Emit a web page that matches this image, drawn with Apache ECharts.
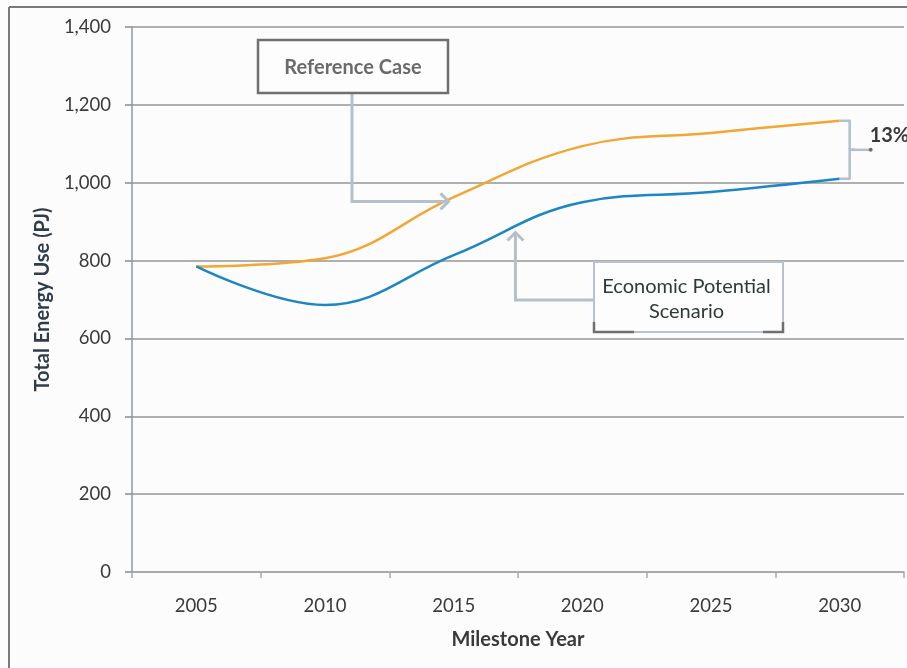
<!DOCTYPE html>
<html>
<head>
<meta charset="utf-8">
<style>
  html, body { margin: 0; padding: 0; background: #fcfcfc; }
  #chart { width: 907px; height: 668px; }
</style>
<script src="https://cdn.jsdelivr.net/npm/echarts@6/dist/echarts.min.js"></script>
</head>
<body>
<div id="chart"></div>
<script>
// Milestone years and total energy use (PJ) for the two scenarios
const years = ['2005', '2010', '2015', '2020', '2025', '2030'];
const referenceCase = [785, 806, 963, 1094, 1128, 1159];
const economicPotential = [785, 686, 814, 950, 976, 1010];
const yMin = 0, yMax = 1400, yStep = 200;

// Callout text and the points their connectors point at (category index, PJ)
const referenceLabel = 'Reference Case';
const economicLabel = 'Economic Potential\nScenario';
const referenceTarget = [1.96, 952];
const economicTarget = [2.48, 872];
const gapLabel = '13%';

const FONT = 'Lato, "Open Sans", sans-serif';
const ORANGE = '#f2a634';
const BLUE = '#1d86c4';
const CONNECTOR = '#b4bfca';

const chart = echarts.init(document.getElementById('chart'));

chart.setOption({
  backgroundColor: '#fcfcfc',
  animation: false,
  grid: { left: 132, right: 3, top: 27, bottom: 96 },
  xAxis: {
    type: 'category',
    data: years,
    boundaryGap: true,
    name: 'Milestone Year',
    nameLocation: 'middle',
    nameGap: 58,
    nameTextStyle: { fontFamily: FONT, fontSize: 20, fontWeight: 'bold', color: '#3a3a3a' },
    axisLine: { lineStyle: { color: '#a9a9a9', width: 1.5 } },
    axisTick: { show: true, length: 6, lineStyle: { color: '#a9a9a9', width: 1.5 } },
    axisLabel: { margin: 25, fontFamily: FONT, fontSize: 18.5, color: '#3a3a3a' }
  },
  yAxis: {
    type: 'value',
    min: yMin,
    max: yMax,
    interval: yStep,
    name: 'Total Energy Use (PJ)',
    nameLocation: 'middle',
    nameGap: 79,
    nameRotate: 90,
    nameTextStyle: { fontFamily: FONT, fontSize: 20, fontWeight: 'bold', color: '#2f3d4a' },
    axisLine: { show: true, lineStyle: { color: '#8d9aa8', width: 1.5 } },
    axisTick: { show: true, length: 7, lineStyle: { color: '#8a8a8a', width: 1.5 } },
    axisLabel: {
      margin: 21, fontFamily: FONT, fontSize: 18.5, color: '#3a3a3a',
      formatter: v => v.toLocaleString('en-US')
    },
    splitLine: { lineStyle: { color: '#969696', width: 1.5 } }
  },
  series: [
    {
      name: 'Reference Case',
      type: 'line',
      data: referenceCase,
      smooth: 0.4,
      symbol: 'none',
      lineStyle: { color: ORANGE, width: 2.5 },
      z: 3
    },
    {
      name: 'Economic Potential Scenario',
      type: 'line',
      data: economicPotential,
      smooth: 0.4,
      symbol: 'none',
      lineStyle: { color: BLUE, width: 2.5 },
      z: 3
    }
  ]
});

// Pixel position of a (fractional category index, value) pair
function toPx(idx, value) {
  const a = chart.convertToPixel({ xAxisIndex: 0 }, 0);
  const b = chart.convertToPixel({ xAxisIndex: 0 }, 1);
  const y = chart.convertToPixel({ yAxisIndex: 0 }, value);
  return [a + (b - a) * idx, y];
}

function arrowHead(tip, dir, color) {
  // dir: 'right' or 'up'
  const s = 8;
  const pts = dir === 'right'
    ? [[tip[0] - s, tip[1] - s], tip, [tip[0] - s, tip[1] + s]]
    : [[tip[0] - s, tip[1] + s], tip, [tip[0] + s, tip[1] + s]];
  return { type: 'polyline', shape: { points: pts }, style: { stroke: color, lineWidth: 3, fill: null }, z: 10 };
}

function drawCallouts() {
  const last = years.length - 1;
  const refEnd = toPx(last, referenceCase[last]);
  const ecoEnd = toPx(last, economicPotential[last]);
  const refTip = toPx(referenceTarget[0], referenceTarget[1]);
  const ecoTip = toPx(economicTarget[0], economicTarget[1]);

  // Reference Case callout box
  const rb = { x: 258, y: 40, w: 190, h: 53 };
  const rx = rb.x + 94;
  // Economic Potential callout box
  const eb = { x: 594, y: 262, w: 189, h: 70 };
  const ey = 300;

  // Brace between the 2030 end points
  const bx = refEnd[0] + 10;
  const midY = (refEnd[1] + ecoEnd[1]) / 2;

  const elements = [
    // outer frame
    { type: 'line', shape: { x1: 9, y1: 7, x2: 907, y2: 7 }, style: { stroke: '#7a7a7a', lineWidth: 2 }, z: 1 },
    { type: 'line', shape: { x1: 9, y1: 7, x2: 9, y2: 668 }, style: { stroke: '#7a7a7a', lineWidth: 2 }, z: 1 },

    // Reference Case connector
    { type: 'polyline', shape: { points: [[rx, rb.y + rb.h], [rx, refTip[1]], [refTip[0], refTip[1]]] },
      style: { stroke: CONNECTOR, lineWidth: 3, fill: null }, z: 9 },
    arrowHead(refTip, 'right', CONNECTOR),
    { type: 'rect', shape: { x: rb.x, y: rb.y, width: rb.w, height: rb.h },
      style: { fill: '#fdfdfd', stroke: '#6f6f6f', lineWidth: 2.5 }, z: 11 },
    { type: 'text', x: rb.x + rb.w / 2, y: rb.y + rb.h / 2 + 1,
      style: { text: referenceLabel, fontFamily: FONT, fontSize: 20, fontWeight: 'bold', fill: '#6b6b6b',
               align: 'center', verticalAlign: 'middle' }, z: 12 },

    // Economic Potential connector
    { type: 'polyline', shape: { points: [[eb.x, ey], [ecoTip[0], ey], [ecoTip[0], ecoTip[1]]] },
      style: { stroke: CONNECTOR, lineWidth: 3, fill: null }, z: 9 },
    arrowHead(ecoTip, 'up', CONNECTOR),
    { type: 'rect', shape: { x: eb.x, y: eb.y, width: eb.w, height: eb.h },
      style: { fill: '#fdfdfd', stroke: '#b9c2cb', lineWidth: 2 }, z: 11 },
    { type: 'polyline', shape: { points: [[eb.x, eb.y + eb.h - 10], [eb.x, eb.y + eb.h], [eb.x + 40, eb.y + eb.h]] },
      style: { stroke: '#6f6f6f', lineWidth: 2.5, fill: null }, z: 12 },
    { type: 'polyline', shape: { points: [[eb.x + eb.w - 20, eb.y + eb.h], [eb.x + eb.w, eb.y + eb.h], [eb.x + eb.w, eb.y + eb.h - 10]] },
      style: { stroke: '#6f6f6f', lineWidth: 2.5, fill: null }, z: 12 },
    { type: 'text', x: eb.x + eb.w / 2 - 2, y: eb.y + 37,
      style: { text: economicLabel, fontFamily: FONT, fontSize: 20, fill: '#2f3a36', lineHeight: 25,
               align: 'center', verticalAlign: 'middle' }, z: 12 },

    // 13% brace
    { type: 'polyline',
      shape: { points: [[refEnd[0], refEnd[1]], [bx, refEnd[1]], [bx, midY], [bx + 4, midY], [bx, midY], [bx, ecoEnd[1]], [ecoEnd[0], ecoEnd[1]]] },
      style: { stroke: CONNECTOR, lineWidth: 2.5, fill: null, lineJoin: 'round' }, z: 9 },
    { type: 'line', shape: { x1: bx, y1: midY, x2: bx + 20, y2: midY },
      style: { stroke: CONNECTOR, lineWidth: 2.5 }, z: 9 },
    { type: 'circle', shape: { cx: bx + 21, cy: midY, r: 2 }, style: { fill: '#6f6f6f' }, z: 10 },
    { type: 'text', x: bx + 20, y: midY - 14,
      style: { text: gapLabel, fontFamily: FONT, fontSize: 20, fontWeight: 'bold', fill: '#3a3a3a',
               align: 'left', verticalAlign: 'middle' }, z: 12 }
  ];

  chart.setOption({ graphic: { elements } });
}

drawCallouts();
</script>
</body>
</html>
